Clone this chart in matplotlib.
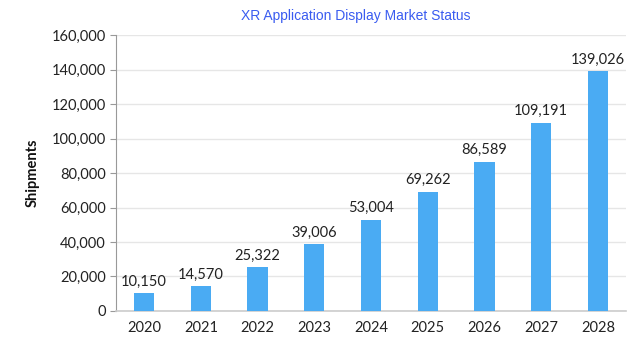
import matplotlib
matplotlib.use("Agg")
import matplotlib.pyplot as plt
from matplotlib.ticker import FuncFormatter

years = ["2020", "2021", "2022", "2023", "2024", "2025", "2026", "2027", "2028"]
shipments = [10150, 14570, 25322, 39006, 53004, 69262, 86589, 109191, 139026]
yticks = [0, 20000, 40000, 60000, 80000, 100000, 120000, 140000, 160000]

plt.rcParams['font.family'] = ['Lato', 'DejaVu Sans']

fig = plt.figure(figsize=(6.43, 3.44), dpi=100)
ax = fig.add_axes([0.180, 0.096, 0.794, 0.802])

x = list(range(len(years)))
bars = ax.bar(x, shipments, width=0.36, color='#4aabf3', zorder=3)
for xi, v in zip(x, shipments):
    ax.text(xi, v + 2500, f"{v:,}", ha='center', va='bottom', fontsize=10.5, color='#222222')

ax.set_xlim(-0.5, len(years) - 0.5)
ax.set_ylim(0, 160000)
ax.set_yticks(yticks)
ax.yaxis.set_major_formatter(FuncFormatter(lambda v, p: f"{int(v):,}"))
ax.set_xticks(x)
ax.set_xticklabels(years)
ax.tick_params(axis='both', labelsize=10.5, colors='#222222')
ax.tick_params(axis='y', length=4, color='#999999', pad=3)
ax.tick_params(axis='x', length=0, pad=7)
ax.grid(axis='y', color='#e6e6e6', linewidth=1, zorder=0)
for s in ['top', 'right']:
    ax.spines[s].set_visible(False)
ax.spines['left'].set_color('#999999')
ax.spines['bottom'].set_color('#cccccc')
ax.spines['bottom'].set_linewidth(1.2)

ax.set_ylabel("Shipments", fontsize=10.5, fontweight='bold', labelpad=9, color='#111111')
fig.text(0.553, 0.953, "XR Application Display Market Status", ha='center', va='center',
         fontsize=10, color='#3a5cf0', family=['Liberation Sans', 'DejaVu Sans'])

fig.savefig("out.png", dpi=100)
